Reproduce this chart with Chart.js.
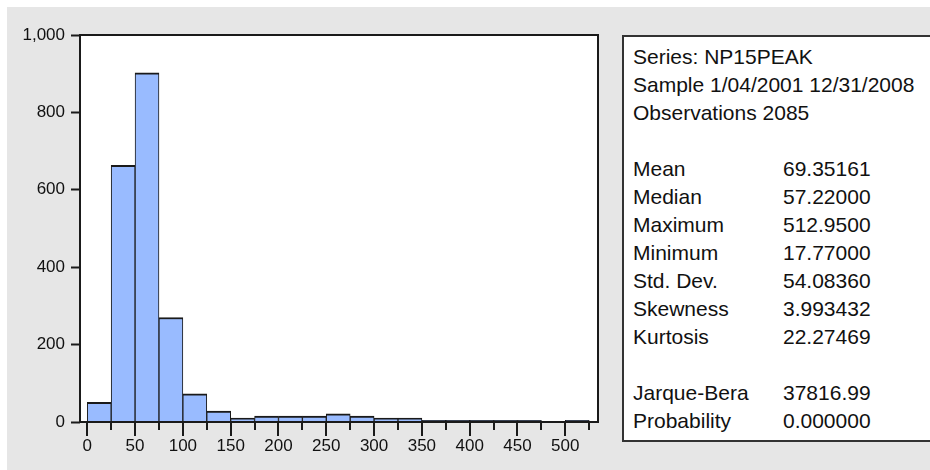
<!DOCTYPE html>
<html>
<head>
<meta charset="utf-8">
<script src="https://cdn.jsdelivr.net/npm/chart.js"></script>
<style>
  html, body { margin: 0; padding: 0; background: #fff; overflow: hidden; }
  #bg { position: absolute; left: 7px; top: 7px; width: 923px; height: 463px; background: #e6e6e6; }
  #wrap { position: absolute; left: 0; top: 0; width: 930px; height: 470px; }
  #stats {
    position: absolute; left: 622px; top: 35px; width: 330px; height: 407px;
    box-sizing: border-box; background: #fff; border: 2px solid #333;
    padding: 6px 0 0 9px;
    font: 21px "Liberation Sans", Arial, sans-serif; color: #111;
  }
  .row { height: 28px; line-height: 28px; white-space: nowrap; position: relative; }
  .row .v { position: absolute; left: 150px; top: 0; }
</style>
</head>
<body>
<div id="bg"></div>
<div id="wrap"><canvas id="myChart" width="930" height="470"></canvas></div>
<div id="stats"></div>
<script>
// histogram bins (width 25) and counts
const binStart = [0, 25, 50, 75, 100, 125, 150, 175, 200, 225, 250, 275, 300, 325, 350, 375, 400, 425, 450, 475, 500];
const counts   = [51, 663, 902, 270, 73, 28, 10, 15, 15, 15, 21, 15, 10, 10, 4, 4, 4, 4, 4, 0, 4];
const binWidth = 25;

const headerLines = ['Series: NP15PEAK', 'Sample 1/04/2001 12/31/2008', 'Observations 2085'];
const statNames  = ['Mean', 'Median', 'Maximum', 'Minimum', 'Std. Dev.', 'Skewness', 'Kurtosis'];
const statValues = ['69.35161', '57.22000', '512.9500', '17.77000', '54.08360', '3.993432', '22.27469'];
const testNames  = ['Jarque-Bera', 'Probability'];
const testValues = ['37816.99', '0.000000'];

// stats box
const box = document.getElementById('stats');
function addRow(a, b) {
  const r = document.createElement('div');
  r.className = 'row';
  r.textContent = a || '';
  if (b !== undefined) {
    const v = document.createElement('span');
    v.className = 'v';
    v.textContent = b;
    r.appendChild(v);
  }
  box.appendChild(r);
}
headerLines.forEach(l => addRow(l));
addRow('');
statNames.forEach((n, i) => addRow(n, statValues[i]));
addRow('');
testNames.forEach((n, i) => addRow(n, testValues[i]));

const ink = '#1a1a1a';

const frame = {
  id: 'frame',
  beforeDraw(chart) {
    const a = chart.chartArea, c = chart.ctx;
    c.save();
    c.fillStyle = '#fff';
    c.fillRect(a.left, a.top, a.right - a.left, a.bottom - a.top);
    c.restore();
  },
  afterDraw(chart) {
    const a = chart.chartArea, c = chart.ctx, xs = chart.scales.x;
    c.save();
    c.strokeStyle = ink;
    c.lineWidth = 2;
    c.strokeRect(a.left, a.top, a.right - a.left, a.bottom - a.top);
    // x ticks: long at 50s, short at 25s
    xs.ticks.forEach(t => {
      const px = Math.round(xs.getPixelForValue(t.value));
      const len = t.value % 50 === 0 ? 14 : 8;
      c.beginPath();
      c.moveTo(px, a.bottom);
      c.lineTo(px, a.bottom + len);
      c.stroke();
    });
    c.restore();
  }
};

Chart.defaults.font.family = '"Liberation Sans", Arial, sans-serif';
Chart.defaults.font.size = 17;
Chart.defaults.color = '#111';

const data = {
  datasets: [{
    data: binStart.map((b, i) => ({ x: b + binWidth / 2, y: counts[i] })),
    backgroundColor: '#99bbff',
    borderColor: ink,
    borderWidth: { top: 2, left: 1, right: 1, bottom: 0 },
    borderSkipped: false,
    barPercentage: 1,
    categoryPercentage: 1
  }]
};

const config = {
  type: 'bar',
  data: data,
  plugins: [frame],
  options: {
    responsive: false,
    animation: false,
    layout: { padding: { left: 0, top: 35, right: 332, bottom: 18 } },
    plugins: { legend: { display: false }, tooltip: { enabled: false } },
    scales: {
      x: {
        type: 'linear',
        offset: false,
        min: -7.6,
        max: 534.2,
        afterFit(s) { s.height = 30; },
        border: { display: false },
        grid: { drawOnChartArea: false, tickLength: 14, tickColor: 'rgba(0,0,0,0)' },
        ticks: {
          stepSize: 25,
          includeBounds: false,
          autoSkip: false,
          maxRotation: 0,
          padding: 0,
          callback: v => (v % 50 === 0 ? String(v) : '')
        }
      },
      y: {
        min: 0,
        max: 1000,
        afterFit(s) { s.width = 80; },
        border: { display: false },
        grid: { drawOnChartArea: false, tickLength: 9, tickColor: ink, tickWidth: 2 },
        ticks: { stepSize: 200, padding: 6 }
      }
    }
  }
};

const myChart = new Chart(document.getElementById('myChart'), config);
</script>
</body>
</html>
